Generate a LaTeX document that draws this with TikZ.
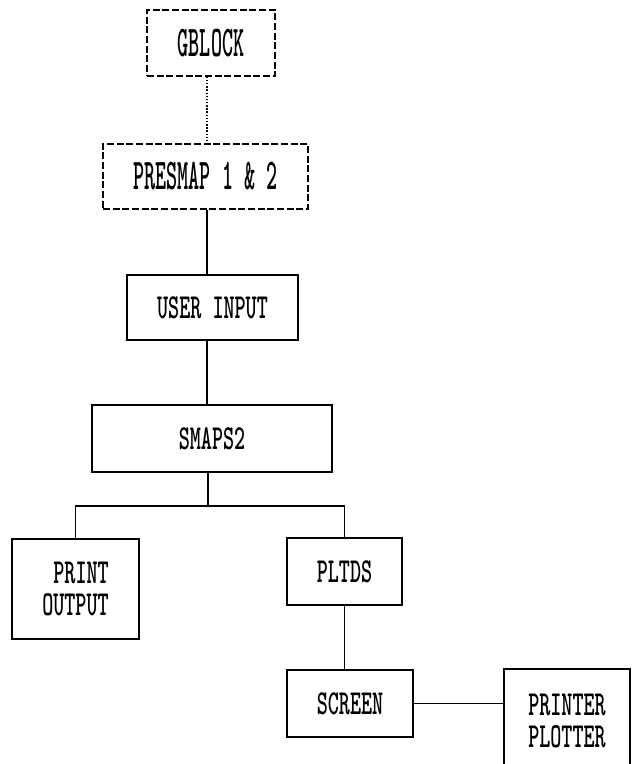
\documentclass[tikz,border=0pt]{standalone}
\usepackage{graphicx}
\usetikzlibrary{positioning}
\tikzset{
  blk/.style={draw, line width=1pt, inner sep=0pt, align=center,
              font=\ttfamily\bfseries\fontsize{20}{18.5}\selectfont},
  blkdash/.style={blk, line width=0.8pt, dash pattern=on 4pt off 1.5pt},
  link/.style={line width=1pt},
  linkdot/.style={line width=0.8pt, densely dotted},
}
\newcommand{\dm}[2][1]{\scalebox{0.6}[#1]{#2}}

\begin{document}
\begin{tikzpicture}[x=0.02cm, y=-0.02cm]
  \clip (0,0) rectangle (632,764);
  % program blocks
  \node[blkdash, minimum width=2.56cm, minimum height=1.32cm] (gblock) at (211,43) {\dm[1.25]{GBLOCK}};
  \node[blkdash, minimum width=4.10cm, minimum height=1.30cm] (presmap) at (205.5,176.5) {\dm[1.25]{PRESMAP 1 \& 2}};
  \node[blk, minimum width=3.42cm, minimum height=1.30cm] (userin) at (212.5,307.5) {\dm{USER INPUT}};
  \node[blk, minimum width=4.80cm, minimum height=1.34cm] (smaps) at (212,438.5) {\dm{SMAPS2}};
  \node[blk, align=right, minimum width=2.54cm, minimum height=2.00cm] (printout) at (75.5,589) {\dm{PRINT}\\\dm{OUTPUT}};
  \node[blk, minimum width=2.30cm, minimum height=1.34cm] (pltds) at (344.5,571.5) {\dm{PLTDS}};
  \node[blk, minimum width=2.52cm, minimum height=1.34cm] (screen) at (350,703.5) {\dm{SCREEN}};
  \node[blk, minimum width=2.52cm, minimum height=2.08cm] (plotter) at (567,721) {\dm{PRINTER}\\\dm{PLOTTER}};
  % links
  \coordinate (spine) at (207,0);
  \coordinate (fork) at (208,506);
  \draw[linkdot] (gblock.south -| spine) -- (presmap.north -| spine);
  \draw[link] (presmap.south -| spine) -- (userin.north -| spine);
  \draw[link] (userin.south -| spine) -- (smaps.north -| spine);
  \draw[link] (smaps.south -| fork) -- (fork);
  \draw[link] (printout.north) |- (fork) -| (pltds.north);
  \draw[link] (pltds.south) -- (pltds.south |- screen.north);
  \draw[link] (screen.east) -- (screen.east -| plotter.west);
\end{tikzpicture}
\end{document}
